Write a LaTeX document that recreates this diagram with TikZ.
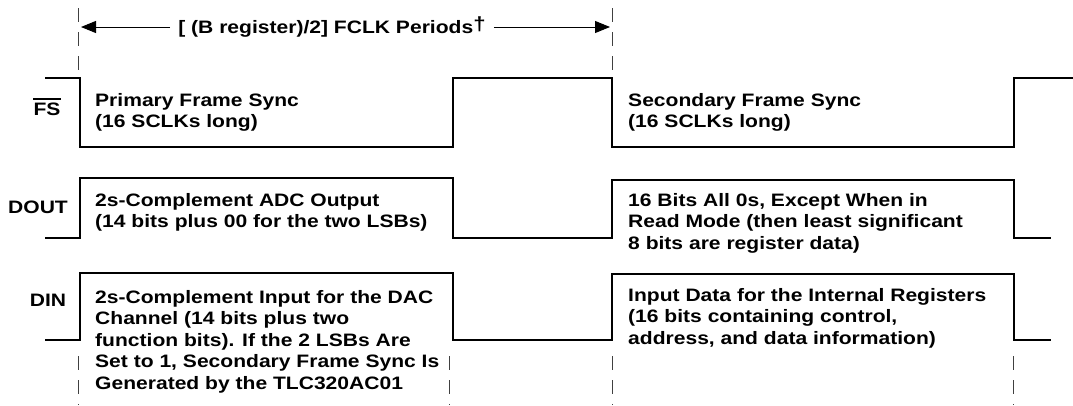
\documentclass[tikz,border=0pt]{standalone}
\usepackage{fontspec}
\setmainfont{Liberation Sans}[FakeStretch=1.17]
\usetikzlibrary{arrows.meta}
\begin{document}
\begin{tikzpicture}[x=1pt,y=-1pt,
  wave/.style={line width=2.6pt,line join=miter,line cap=butt},
  guide/.style={line width=1pt,dash pattern=on 14pt off 10pt,black!75},
  dimline/.style={line width=1pt,-{Triangle[length=15pt,width=12pt]}},
  txt/.style={anchor=north west,inner sep=0pt,align=left,font=\bfseries\fontsize{18}{21.5}\selectfont},
  lbl/.style={inner sep=0pt,font=\bfseries\fontsize{18}{21.5}\selectfont}]
\useasboundingbox (0,0) rectangle (1073,405);
% guide lines
\draw[guide] (78,8) -- (78,76);
\draw[guide] (612,8) -- (612,76);
\foreach \gx in {78,449,612,1013} \draw[guide] (\gx,356) -- (\gx,405);
% dimension
\coordinate (dl) at (81,27);
\coordinate (dr) at (610,27);
\node[lbl,inner xsep=8pt] (title) at (332,27) {[ (B register)/2] FCLK Periods\raisebox{3pt}{\fontsize{19}{19}\selectfont †}};
\draw[dimline] (title.west) -- (dl);
\draw[dimline] (title.east) -- (dr);
% waveforms
\draw[wave] (45,78) -- (80,78) -- (80,147) -- (453,147) -- (453,78) -- (612,78) -- (612,147) -- (1014,147) -- (1014,78) -- (1073,78);
\draw[wave] (45,238) -- (80,238) -- (80,178) -- (453,178) -- (453,238) -- (612,238) -- (612,180) -- (1014,180) -- (1014,238) -- (1051,238);
\draw[wave] (45,340) -- (80,340) -- (80,273) -- (453,273) -- (453,340) -- (612,340) -- (612,274) -- (1014,274) -- (1014,340) -- (1051,340);
% signal labels
\node[lbl] (fs) at (47,109) {FS};
\draw[line width=1.6pt] ([yshift=3.5pt]fs.north west) -- ([yshift=3.5pt]fs.north east);
\node[lbl] (dout) at (38,207) {DOUT};
\node[lbl] (din) at (48,300) {DIN};
% texts
\node[txt] (t1) at (95,93) {Primary Frame Sync\\(16 SCLKs long)};
\node[txt] (t2) at (628,93) {Secondary Frame Sync\\(16 SCLKs long)};
\node[txt] (t3) at (95,193) {2s-Complement ADC Output\\(14 bits plus 00 for the two LSBs)};
\node[txt] (t4) at (628,193) {16 Bits All 0s, Except When in\\Read Mode (then least significant\\8 bits are register data)};
\node[txt] (t5) at (95,290) {2s-Complement Input for the DAC\\Channel (14 bits plus two\\function bits). If the 2 LSBs Are\\Set to 1, Secondary Frame Sync Is\\Generated by the TLC320AC01};
\node[txt] (t6) at (628,288) {Input Data for the Internal Registers\\(16 bits containing control,\\address, and data information)};
\end{tikzpicture}
\end{document}
